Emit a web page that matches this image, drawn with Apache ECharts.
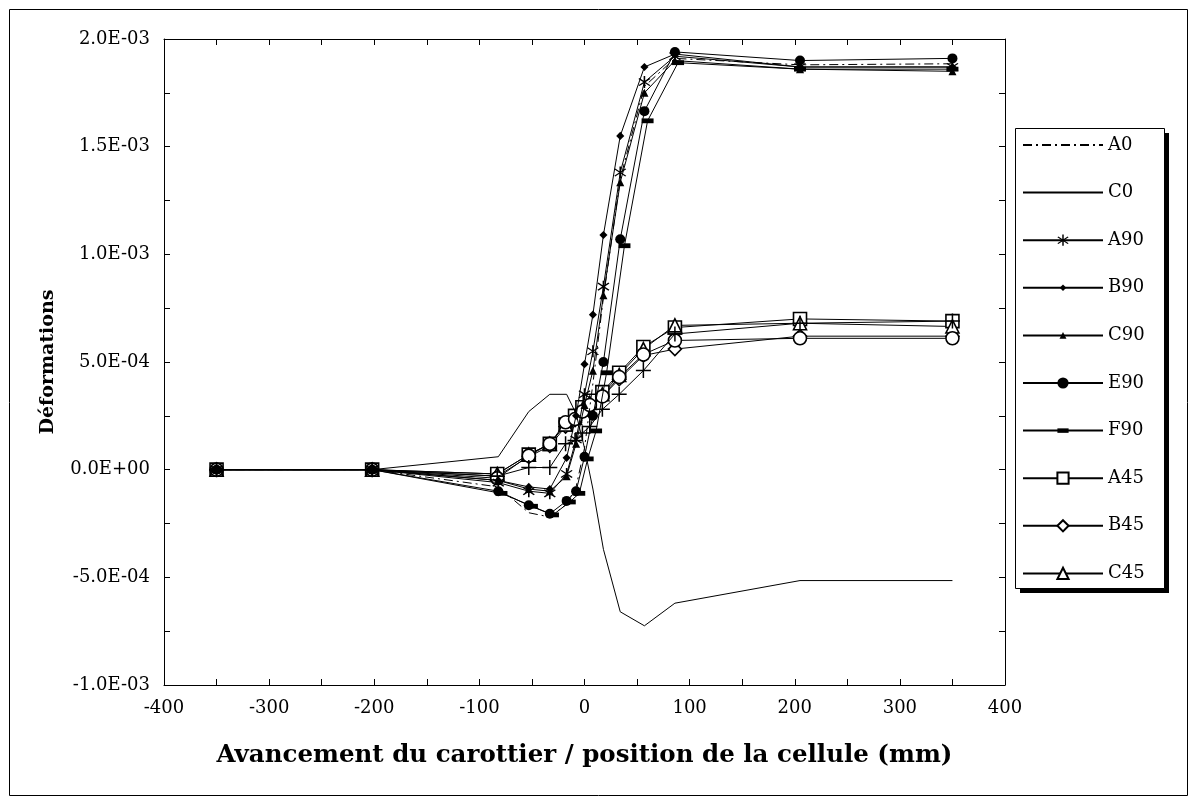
<!DOCTYPE html>
<html>
<head>
<meta charset="utf-8">
<script src="https://cdn.jsdelivr.net/npm/echarts@6/dist/echarts.min.js"></script>
<style>
  html, body { margin: 0; padding: 0; background: #fff; }
  #chart { width: 1192px; height: 800px; }
</style>
</head>
<body>
<div id="chart"></div>
<script>
// Gauge positions along the core (mm)
const x90 = [-350, -202, -82, -53, -33, -17, -8, 0, 8, 18, 34, 57, 86, 205, 350];
const xF90 = [-350, -202, -79, -50, -30, -14, -5, 3, 11, 21, 38, 60, 89, 205, 350];
const x45 = [-350, -202, -83, -53, -33, -18, -9, -2, 5, 17, 33, 56, 86, 205, 350];

// Strain readings
const A0  = [0, 0, -0.08e-3, -0.20e-3, -0.22e-3, -0.16e-3, -0.08e-3, 0.10e-3, 0.40e-3, 0.80e-3, 1.35e-3, 1.78e-3, 1.91e-3, 1.88e-3, 1.885e-3];
const C0  = [0, 0, 0.06e-3, 0.27e-3, 0.35e-3, 0.35e-3, 0.26e-3, 0.10e-3, -0.09e-3, -0.37e-3, -0.66e-3, -0.725e-3, -0.62e-3, -0.515e-3, -0.515e-3];
const A90 = [0, 0, -0.06e-3, -0.10e-3, -0.11e-3, -0.02e-3, 0.14e-3, 0.35e-3, 0.55e-3, 0.85e-3, 1.38e-3, 1.80e-3, 1.92e-3, 1.87e-3, 1.87e-3];
const B90 = [0, 0, -0.05e-3, -0.08e-3, -0.09e-3, 0.055e-3, 0.25e-3, 0.49e-3, 0.72e-3, 1.09e-3, 1.55e-3, 1.87e-3, 1.93e-3, 1.87e-3, 1.87e-3];
const C90 = [0, 0, -0.05e-3, -0.09e-3, -0.10e-3, -0.03e-3, 0.12e-3, 0.30e-3, 0.46e-3, 0.81e-3, 1.335e-3, 1.75e-3, 1.90e-3, 1.86e-3, 1.85e-3];
const E90 = [0, 0, -0.10e-3, -0.165e-3, -0.205e-3, -0.145e-3, -0.10e-3, 0.06e-3, 0.25e-3, 0.50e-3, 1.07e-3, 1.665e-3, 1.94e-3, 1.90e-3, 1.91e-3];
const F90 = [0, 0, -0.11e-3, -0.17e-3, -0.21e-3, -0.15e-3, -0.11e-3, 0.05e-3, 0.18e-3, 0.45e-3, 1.04e-3, 1.62e-3, 1.89e-3, 1.86e-3, 1.86e-3];
const A45 = [0, 0, -0.02e-3, 0.07e-3, 0.12e-3, 0.21e-3, 0.25e-3, 0.29e-3, 0.32e-3, 0.36e-3, 0.45e-3, 0.57e-3, 0.66e-3, 0.70e-3, 0.69e-3];
const B45 = [0, 0, -0.03e-3, 0.06e-3, 0.11e-3, 0.20e-3, 0.23e-3, 0.27e-3, 0.30e-3, 0.34e-3, 0.42e-3, 0.53e-3, 0.56e-3, 0.62e-3, 0.62e-3];
const C45 = [0, 0, -0.02e-3, 0.07e-3, 0.12e-3, 0.21e-3, 0.24e-3, 0.28e-3, 0.31e-3, 0.35e-3, 0.44e-3, 0.56e-3, 0.67e-3, 0.68e-3, 0.665e-3];
const E45 = [0, 0, -0.04e-3, 0.065e-3, 0.12e-3, 0.22e-3, 0.235e-3, 0.27e-3, 0.30e-3, 0.34e-3, 0.43e-3, 0.535e-3, 0.60e-3, 0.61e-3, 0.61e-3];
const F45 = [0, 0, -0.03e-3, 0.01e-3, 0.01e-3, 0.12e-3, 0.135e-3, 0.17e-3, 0.20e-3, 0.28e-3, 0.35e-3, 0.46e-3, 0.63e-3, 0.68e-3, 0.69e-3];

const legendNames = ['A0', 'C0', 'A90', 'B90', 'C90', 'E90', 'F90', 'A45', 'B45', 'C45'];

const FONT = 'DejaVu Serif';
// Marker shapes; corner move-to points pad the box so small marks stay small in the legend
const STAR = 'path://M9,0 H11 V20 H9 Z M2.35,4.76 L3.65,3.24 L17.65,15.24 L16.35,16.76 Z M16.35,3.24 L17.65,4.76 L3.65,16.76 L2.35,15.24 Z';
const PLUS = 'path://M9,0 H11 V9 H20 V11 H11 V20 H9 V11 H0 V9 H9 Z';
const SMALL_DIAMOND = 'path://M0,0 M20,20 M10,4.2 L15.8,10 L10,15.8 L4.2,10 Z';
const SMALL_TRIANGLE = 'path://M0,0 M20,20 M10,3.8 L16.2,16.2 L3.8,16.2 Z';
const DASH = 'path://M0,0 M20,20 M0,6 H20 V14 H0 Z';

function pairs(xs, ys) { return xs.map((x, i) => [x, ys[i]]); }

function sciLabel(v) {
  if (Math.abs(v) < 1e-12) return '0.0E+00';
  const e = Math.floor(Math.log10(Math.abs(v)) + 1e-9);
  const m = (v / Math.pow(10, e)).toFixed(1);
  const sign = e < 0 ? '-' : '+';
  const ae = Math.abs(e);
  return m + 'E' + sign + (ae < 10 ? '0' + ae : ae);
}

function line(name, xs, ys, symbol, size, open, extra) {
  const s = {
    name: name,
    type: 'line',
    data: pairs(xs, ys),
    symbol: symbol,
    symbolSize: size,
    showAllSymbol: true,
    animation: false,
    z: open ? 3 : 4,
    lineStyle: { color: '#000', width: 1 },
    itemStyle: open
      ? { color: '#fff', borderColor: '#000', borderWidth: 1.6 }
      : { color: '#000', borderWidth: 0 },
    emphasis: { disabled: true }
  };
  return Object.assign(s, extra || {});
}

const bare = { showSymbol: false, itemStyle: { color: 'rgba(0,0,0,0)', borderWidth: 0 } };

const series = [
  line('A0', x90, A0, 'circle', 0, false, Object.assign({ lineStyle: { color: '#000', width: 1, type: [9, 4, 2, 4] } }, bare)),
  line('C0', x90, C0, 'circle', 0, false, bare),
  line('A90', x90, A90, STAR, 12, false),
  line('B90', x90, B90, SMALL_DIAMOND, 14, false),
  line('C90', x90, C90, SMALL_TRIANGLE, 13, false),
  line('E90', x90, E90, 'circle', 10, false),
  line('F90', xF90, F90, DASH, 12, false),
  line('A45', x45, A45, 'rect', 13, true),
  line('B45', x45, B45, 'diamond', 13, true),
  line('C45', x45, C45, 'triangle', 13, true),
  line('E45', x45, E45, 'circle', 13, true),
  line('F45', x45, F45, PLUS, 15, false)
];

const tickStyle = { lineStyle: { color: '#000', width: 1 } };
function frameAxis(extra) {
  return Object.assign({
    type: 'value',
    axisLine: { show: true, onZero: false, lineStyle: { color: '#000', width: 1 } },
    axisTick: Object.assign({ show: true, inside: true, length: 6 }, tickStyle),
    minorTick: Object.assign({ show: true, splitNumber: 2, length: 6 }, tickStyle),
    splitLine: { show: false }
  }, extra);
}

const option = {
  backgroundColor: '#fff',
  animation: false,
  textStyle: { fontFamily: FONT, color: '#000' },
  grid: { left: 164, top: 39, right: 187, bottom: 115, show: false },
  legend: {
    data: legendNames,
    orient: 'vertical',
    left: 1022,
    top: 136,
    itemWidth: 80,
    itemHeight: 14,
    itemGap: 29.6,
    padding: 0,
    selectedMode: false,
    textStyle: { fontFamily: FONT, fontSize: 18, color: '#000' }
  },
  xAxis: [
    frameAxis({
      min: -400, max: 400, interval: 100,
      name: 'Avancement du carottier / position de la cellule (mm)',
      nameLocation: 'middle', nameGap: 58,
      nameTextStyle: { fontFamily: FONT, fontWeight: 'bold', fontSize: 24.5, color: '#000' },
      axisLabel: { fontFamily: FONT, fontSize: 18, color: '#000', margin: 14 }
    }),
    frameAxis({ min: -400, max: 400, interval: 100, position: 'top', axisLabel: { show: false } })
  ],
  yAxis: [
    frameAxis({
      min: -1e-3, max: 2e-3, interval: 5e-4,
      name: 'Déformations',
      nameLocation: 'middle', nameGap: 106, nameRotate: 90,
      nameTextStyle: { fontFamily: FONT, fontWeight: 'bold', fontSize: 19, color: '#000' },
      axisLabel: { fontFamily: FONT, fontSize: 18, color: '#000', margin: 14, formatter: sciLabel }
    }),
    frameAxis({ min: -1e-3, max: 2e-3, interval: 5e-4, position: 'right', axisLabel: { show: false } })
  ],
  graphic: [
    {
      type: 'rect', left: 7, top: 7, silent: true, z: -10,
      shape: { x: 0, y: 0, width: 1178, height: 786 },
      style: { fill: 'none', stroke: '#000', lineWidth: 1 }
    },
    {
      type: 'rect', left: 1020, top: 133, silent: true, z: 1,
      shape: { x: 0, y: 0, width: 149, height: 460 },
      style: { fill: '#000' }
    },
    {
      type: 'rect', left: 1015, top: 128, silent: true, z: 2,
      shape: { x: 0.5, y: 0.5, width: 149, height: 460 },
      style: { fill: '#fff', stroke: '#000', lineWidth: 1 }
    }
  ],
  series: series
};

const chart = echarts.init(document.getElementById('chart'), null, { renderer: 'canvas' });
chart.setOption(option);
</script>
</body>
</html>
